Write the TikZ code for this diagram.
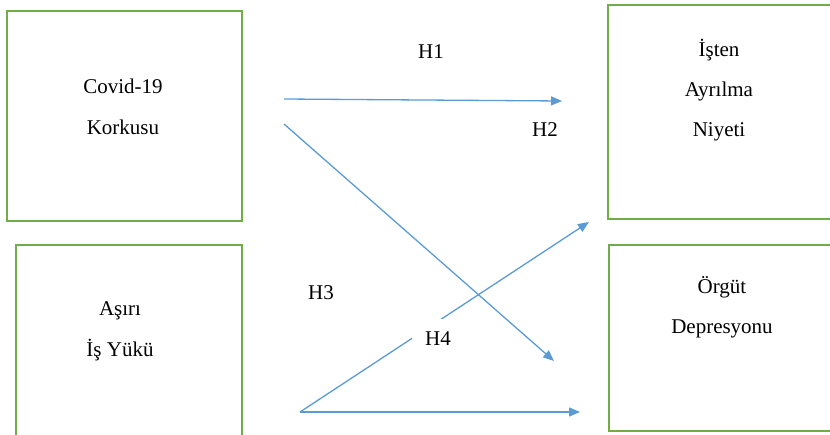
\documentclass[tikz,border=0pt]{standalone}
\usepackage{fontspec}
\setmainfont{Liberation Serif}
\usetikzlibrary{arrows.meta}
\definecolor{boxgreen}{RGB}{112,173,71}
\definecolor{arrowblue}{RGB}{91,155,213}
\begin{document}
\begin{tikzpicture}[x=1pt,y=-1pt,
  box/.style={draw=boxgreen,line width=1.5pt,inner sep=0pt,anchor=north west},
  txt/.style={font=\fontsize{21}{41}\selectfont,align=center,inner sep=0pt},
  hyp/.style={font=\fontsize{21}{24}\selectfont,inner sep=0pt},
  link/.style={draw=arrowblue,line width=1.3pt,-{Triangle[length=11pt,width=9pt]}}]
\useasboundingbox (0,0) rectangle (830,434);
% boxes
\node[box,minimum width=235pt,minimum height=210pt] (b1) at (6,10) {};
\node[box,minimum width=226pt,minimum height=210pt] (b2) at (15,244) {};
\node[box,minimum width=240pt,minimum height=214pt] (b3) at (607,4) {};
\node[box,minimum width=240pt,minimum height=186pt] (b4) at (608,244) {};
% texts
\node[txt] (t1) at (123,106.5) {Covid-19\\Korkusu};
\node[txt] (t2) at (120,331) {Aşırı\\İş Yükü};
\node[txt,font=\fontsize{21}{40}\selectfont] (t3) at (719,90) {İşten\\Ayrılma\\Niyeti};
\node[txt,font=\fontsize{21}{40}\selectfont] (t4) at (722,307) {Örgüt\\Depresyonu};
% arrow ends
\coordinate (s1) at (284,99);
\coordinate (e1) at (562,101);
\coordinate (s2) at (284,124);
\coordinate (e2) at (554,361);
\coordinate (s3) at (300,412);
\coordinate (e3) at (589,222);
\coordinate (e4) at (580,412);
\draw[link] (s1) -- (e1);
\draw[link] (s2) -- (e2);
\draw[link] (s3) -- (e3);
\draw[link] (s3) -- (e4);
% labels
\node[hyp] (h1) at (431,52) {H1};
\node[hyp] (h2) at (545,130) {H2};
\node[hyp] (h3) at (321,293) {H3};
\node[hyp,fill=white,minimum width=52pt,minimum height=40pt] (h4) at (438,339) {H4};
\end{tikzpicture}
\end{document}
